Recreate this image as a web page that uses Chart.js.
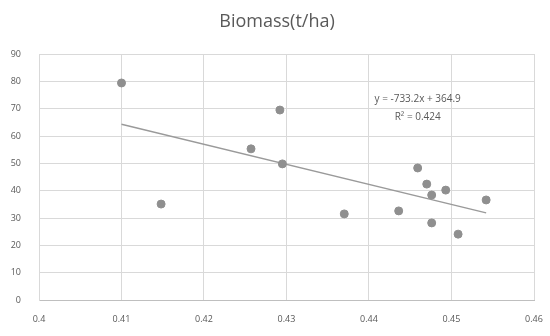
<!DOCTYPE html>
<html>
<head>
<meta charset="utf-8">
<script src="https://cdn.jsdelivr.net/npm/chart.js@4/dist/chart.umd.min.js"></script>
<style>
  html, body { margin: 0; padding: 0; background: #fff; }
  #wrap { width: 550px; height: 336px; }
</style>
</head>
<body>
<div id="wrap"><canvas id="biomassChart"></canvas></div>
<script>
// values
const ndvi = [0.4100, 0.4148, 0.4257, 0.4292, 0.4295, 0.4370, 0.4436, 0.4459, 0.4470, 0.4476, 0.4476, 0.4493, 0.4508, 0.4542];
const biomass = [79.4, 35.1, 55.3, 69.5, 49.8, 31.5, 32.6, 48.3, 42.4, 38.4, 28.2, 40.2, 24.1, 36.6];

// trendline end points (as drawn)
const trendX = [0.4100, 0.4542];
const trendY = [64.3, 31.9];

const xTickLabels = ['0.4', '0.41', '0.42', '0.43', '0.44', '0.45', '0.46'];
const yTickLabels = ['0', '10', '20', '30', '40', '50', '60', '70', '80', '90'];

const titleText = 'Biomass(t/ha)';
const equationText = 'y = -733.2x + 364.9';
const r2Text = 'R² = 0.424';

const grey = '#595959';
const fontFam = "'Open Sans', 'Noto Sans', sans-serif";

// title and trendline equation drawn as text on the canvas
const textLabels = {
    id: 'textLabels',
    afterDatasetsDraw(chart) {
        const ctx = chart.ctx;
        const xs = chart.scales.x, ys = chart.scales.y;
        ctx.save();
        ctx.fillStyle = grey;
        ctx.textAlign = 'center';
        ctx.textBaseline = 'middle';

        ctx.font = '18px ' + fontFam;
        ctx.fillText(titleText, 277, 22);

        ctx.font = '10px ' + fontFam;
        const cx = xs.getPixelForValue(0.4459);
        ctx.fillText(equationText, cx, ys.getPixelForValue(73.3));
        ctx.fillText(r2Text, cx, ys.getPixelForValue(67.0));
        ctx.restore();
    }
};

const ctx = document.getElementById('biomassChart');

new Chart(ctx, {
    type: 'scatter',
    data: {
        datasets: [{
            label: 'Biomass',
            data: ndvi.map((v, i) => ({ x: v, y: biomass[i] })),
            backgroundColor: '#8f8f8f',
            borderColor: '#8f8f8f',
            pointRadius: 4,
            pointHoverRadius: 4,
            order: 1
        }, {
            label: 'Linear',
            type: 'line',
            data: trendX.map((v, i) => ({ x: v, y: trendY[i] })),
            borderColor: '#9a9a9a',
            borderWidth: 1.3,
            pointRadius: 0,
            fill: false,
            order: 2
        }]
    },
    options: {
        responsive: true,
        maintainAspectRatio: false,
        animation: false,
        layout: { padding: { left: 0, right: 16, top: 54, bottom: 0 } },
        scales: {
            x: {
                type: 'linear',
                min: 0.4,
                max: 0.46,
                afterBuildTicks(scale) {
                    scale.ticks = xTickLabels.map(t => ({ value: parseFloat(t) }));
                },
                afterFit(scale) {
                    scale.height = 36;
                    scale.paddingLeft = 0;
                    scale.paddingRight = 0;
                },
                grid: { color: '#d9d9d9', lineWidth: 1, drawTicks: false },
                border: { color: '#bfbfbf' },
                ticks: {
                    color: grey,
                    padding: 14,
                    maxRotation: 0,
                    font: { size: 9, family: fontFam },
                    callback: (v, i) => xTickLabels[i]
                }
            },
            y: {
                min: 0,
                max: 90,
                afterBuildTicks(scale) {
                    scale.ticks = yTickLabels.map(t => ({ value: parseFloat(t) }));
                },
                afterFit(scale) {
                    scale.width = 39;
                    scale.paddingTop = 0;
                    scale.paddingBottom = 0;
                },
                grid: { color: '#d9d9d9', lineWidth: 1, drawTicks: false },
                border: { color: '#d9d9d9' },
                ticks: {
                    color: grey,
                    padding: 18,
                    font: { size: 9, family: fontFam },
                    callback: (v, i) => yTickLabels[i]
                }
            }
        },
        plugins: {
            legend: { display: false },
            tooltip: { enabled: false },
            title: { display: false }
        }
    },
    plugins: [textLabels]
});
</script>
</body>
</html>
